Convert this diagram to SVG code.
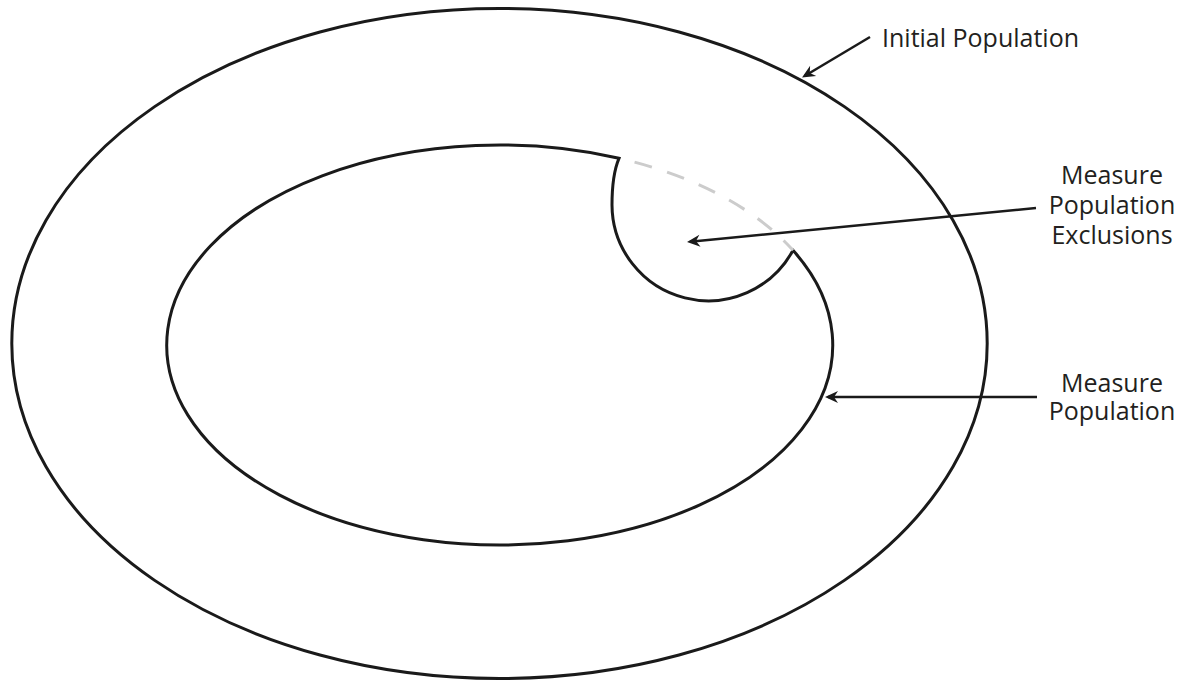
<svg xmlns="http://www.w3.org/2000/svg" width="1186" height="684" viewBox="0 0 1186 684">
<style>
.shape{fill:none;stroke:#1a1a1a;stroke-width:3}
.dash{fill:none;stroke:#cccccc;stroke-width:3;stroke-dasharray:18 16;stroke-dashoffset:18}
.conn{fill:none;stroke:#1a1a1a;stroke-width:2.5;marker-end:url(#ah)}
.lbl{font-family:"Open Sans","Noto Sans",sans-serif;font-size:25px;fill:#231f20}
</style>
<defs>
<marker id="ah" markerUnits="userSpaceOnUse" markerWidth="20" markerHeight="20" refX="0" refY="0" viewBox="-12 -8 20 16" orient="auto" overflow="visible">
<path d="M3,0 L-10,-6 L-6,0 L-10,6 Z" fill="#1a1a1a"/>
</marker>
</defs>
<g id="initial-population">
<ellipse class="shape" cx="499.5" cy="343.5" rx="487.7" ry="335"/>
</g>
<g id="measure-population">
<path class="shape" d="M619,158.3 A333,200 0 1 0 793,250.3 A96.3,96.3 0 0 1 612,205 C612,186 614,170 619,158.3 Z" stroke-linejoin="miter"/>
</g>
<g id="measure-population-exclusions">
<path class="dash" d="M619,158.3 A333,200 0 0 1 793,250.3"/>
</g>
<g id="connectors">
<line class="conn" x1="870" y1="37" x2="804.6" y2="76"/>
<line class="conn" x1="1036" y1="208" x2="690" y2="241.7"/>
<line class="conn" x1="1037" y1="397" x2="828" y2="397"/>
</g>
<g id="labels">
<text class="lbl" x="882" y="47">Initial Population</text>
<text class="lbl" text-anchor="middle" x="1112" y="184">Measure</text>
<text class="lbl" text-anchor="middle" x="1112" y="214">Population</text>
<text class="lbl" text-anchor="middle" x="1112" y="244">Exclusions</text>
<text class="lbl" text-anchor="middle" x="1112" y="392">Measure</text>
<text class="lbl" text-anchor="middle" x="1112" y="420">Population</text>
</g>
</svg>
